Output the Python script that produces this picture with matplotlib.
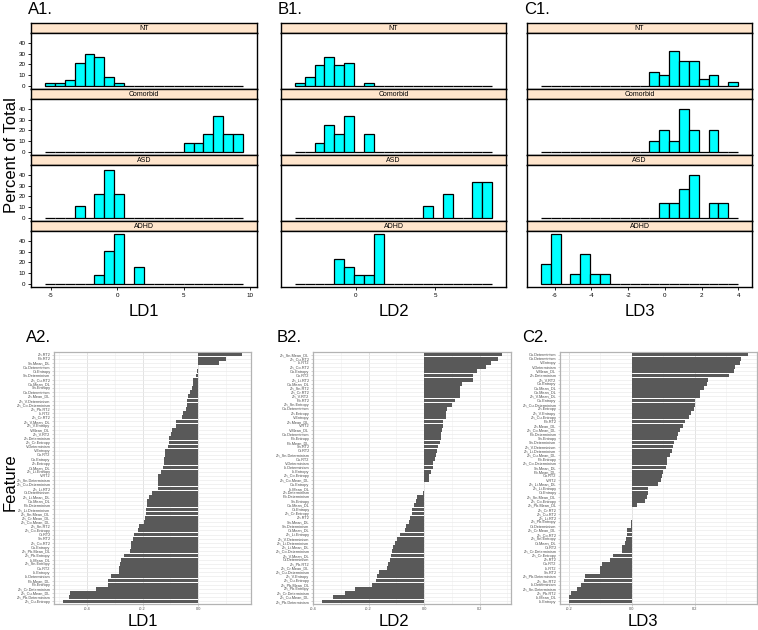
import numpy as np
import matplotlib
matplotlib.use('Agg')
import matplotlib.pyplot as plt
from matplotlib.ticker import MultipleLocator

plt.rcParams['font.family'] = ['Liberation Sans', 'DejaVu Sans']
plt.rcParams['axes.unicode_minus'] = False

W, H = 758, 630

groups = ['NT', 'Comorbid', 'ASD', 'ADHD']
n_bins = 20

# histogram break ranges (lattice, 20 equal bins)
ld1_breaks = (-5.44, 9.46)
ld2_breaks = (-3.83, 8.57)
ld3_breaks = (-6.76, 3.99)

# percent of total per bin
ld1_nt = [2.7, 2.7, 5.4, 21.6, 29.7, 27.0, 8.1, 2.7, 0, 0, 0, 0, 0, 0, 0, 0, 0, 0, 0, 0]
ld1_comorbid = [0, 0, 0, 0, 0, 0, 0, 0, 0, 0, 0, 0, 0, 0, 8.3, 8.3, 16.7, 33.3, 16.7, 16.7]
ld1_asd = [0, 0, 0, 11.1, 0, 22.2, 44.4, 22.2, 0, 0, 0, 0, 0, 0, 0, 0, 0, 0, 0, 0]
ld1_adhd = [0, 0, 0, 0, 0, 7.7, 30.8, 46.2, 0, 15.4, 0, 0, 0, 0, 0, 0, 0, 0, 0, 0]

ld2_nt = [2.7, 8.1, 18.9, 27.0, 18.9, 21.6, 0, 2.7, 0, 0, 0, 0, 0, 0, 0, 0, 0, 0, 0, 0]
ld2_comorbid = [0, 0, 8.3, 25.0, 16.7, 33.3, 0, 16.7, 0, 0, 0, 0, 0, 0, 0, 0, 0, 0, 0, 0]
ld2_asd = [0, 0, 0, 0, 0, 0, 0, 0, 0, 0, 0, 0, 0, 11.1, 0, 22.2, 0, 0, 33.3, 33.3]
ld2_adhd = [0, 0, 0, 0, 23.1, 15.4, 7.7, 7.7, 46.2, 0, 0, 0, 0, 0, 0, 0, 0, 0, 0, 0]

ld3_nt = [0, 0, 0, 0, 0, 0, 0, 0, 0, 0, 0, 10.8, 8.1, 27.0, 18.9, 18.9, 5.4, 8.1, 0, 2.7]
ld3_comorbid = [0, 0, 0, 0, 0, 0, 0, 0, 0, 0, 0, 8.3, 16.7, 8.3, 33.3, 16.7, 0, 16.7, 0, 0]
ld3_asd = [0, 0, 0, 0, 0, 0, 0, 0, 0, 0, 0, 0, 11.1, 11.1, 22.2, 33.3, 0, 11.1, 11.1, 0]
ld3_adhd = [15.4, 38.5, 0, 7.7, 23.1, 7.7, 7.7, 0, 0, 0, 0, 0, 0, 0, 0, 0, 0, 0, 0, 0]

ld1_ticks = [-5, 0, 5, 10]
ld2_ticks = [0, 5]
ld3_ticks = [-6, -4, -2, 0, 2, 4]

# feature loadings (top to bottom)
ld1_features = ["Zn.RT2", "Pb.RT2", "Sn.Mean_DL", "Cu.Determinism", "Cr.Entropy", "Sn.Determinism",
                "Zn_Cu.RT2", "Cu.Mean_DL", "Sn.Entropy", "Co.Determinism", "Zn.Mean_DL", "Zn_V.Determinism",
                "Zn_Co.Determinism", "Zn_Pb.RT2", "Li.RT2", "Zn_Cr.RT2", "Zn_V.Mean_DL", "Zn_V.Entropy",
                "V.Mean_DL", "Zn_V.RT2", "Zn.Determinism", "Zn_Cr.Entropy", "V.Determinism", "V.Entropy",
                "Co.RT2", "Co.Entropy", "Zn.Entropy", "Cr.Mean_DL", "Zn_Li.Entropy", "V.RT2",
                "Zn_Sn.Determinism", "Zn_Cu.Determinism", "Zn_Li.RT2", "Cr.Determinism", "Zn_Li.Mean_DL",
                "Co.Mean_DL", "Pb.Determinism", "Zn_Li.Determinism", "Zn_Sn.Mean_DL", "Zn_Cr.Mean_DL",
                "Zn_Co.Mean_DL", "Zn_Sn.RT2", "Zn_Co.Entropy", "Cr.RT2", "Sn.RT2", "Zn_Co.RT2",
                "Cu.Entropy", "Zn_Pb.Mean_DL", "Zn_Pb.Entropy", "Li.Mean_DL", "Zn_Sn.Entropy", "Cu.RT2",
                "Li.Entropy", "Li.Determinism", "Pb.Mean_DL", "Pb.Entropy", "Zn_Cr.Determinism",
                "Zn_Cu.Mean_DL", "Zn_Pb.Determinism", "Zn_Cu.Entropy"]
ld1_values = [0.157, 0.098, 0.074, -0.002, -0.003, -0.010, -0.018, -0.019, -0.024, -0.029,
              -0.036, -0.039, -0.040, -0.043, -0.055, -0.057, -0.079, -0.081, -0.094, -0.099,
              -0.105, -0.107, -0.108, -0.118, -0.119, -0.124, -0.125, -0.126, -0.133, -0.144,
              -0.144, -0.144, -0.146, -0.165, -0.176, -0.186, -0.186, -0.187, -0.188, -0.190,
              -0.194, -0.214, -0.215, -0.230, -0.236, -0.242, -0.243, -0.245, -0.268, -0.276,
              -0.282, -0.285, -0.286, -0.315, -0.324, -0.324, -0.369, -0.460, -0.465, -0.486]

ld2_features = ["Zn_Sn.Mean_DL", "Zn_Cu.RT2", "Li.RT2", "Zn_Co.RT2", "Co.Entropy", "Co.RT2",
                "Zn_Li.RT2", "Cu.Mean_DL", "Zn_Sn.RT2", "Zn_Cr.RT2", "Zn_V.RT2", "Pb.RT2",
                "Zn_Sn.Entropy", "Cu.Determinism", "Zn.Entropy", "V.Entropy", "Zn.Mean_DL", "V.RT2",
                "V.Mean_DL", "Co.Determinism", "Pb.Entropy", "Pb.Mean_DL", "Sn.RT2", "Cr.RT2",
                "Zn_Sn.Determinism", "Cu.RT2", "V.Determinism", "Li.Determinism", "Li.Entropy",
                "Zn_Co.Entropy", "Zn_Co.Mean_DL", "Cu.Entropy", "Li.Mean_DL", "Zn.Determinism",
                "Pb.Determinism", "Sn.Entropy", "Co.Mean_DL", "Cr.Entropy", "Zn_Cr.Entropy", "Zn.RT2",
                "Sn.Mean_DL", "Sn.Determinism", "Cr.Mean_DL", "Zn_Li.Entropy", "Zn_V.Determinism",
                "Zn_Li.Determinism", "Zn_Li.Mean_DL", "Zn_Co.Determinism", "Zn_V.Mean_DL",
                "Cr.Determinism", "Zn_Pb.RT2", "Zn_Cr.Mean_DL", "Zn_Cu.Determinism", "Zn_V.Entropy",
                "Zn_Cu.Entropy", "Zn_Pb.Mean_DL", "Zn_Pb.Entropy", "Zn_Cr.Determinism",
                "Zn_Cu.Mean_DL", "Zn_Pb.Determinism"]
ld2_values = [0.281, 0.266, 0.242, 0.224, 0.190, 0.176, 0.176, 0.138, 0.131, 0.131,
              0.129, 0.111, 0.101, 0.081, 0.080, 0.080, 0.069, 0.068, 0.065, 0.060,
              0.060, 0.059, 0.051, 0.047, 0.042, 0.040, 0.032, 0.031, 0.025, 0.019,
              0.019, 0.001, -0.001, -0.004, -0.024, -0.028, -0.038, -0.042, -0.043, -0.050,
              -0.053, -0.066, -0.067, -0.085, -0.097, -0.104, -0.111, -0.114, -0.121, -0.122,
              -0.129, -0.135, -0.163, -0.170, -0.175, -0.188, -0.250, -0.284, -0.327, -0.368]

ld3_features = ["Cu.Determinism", "Co.Determinism", "V.Entropy", "V.Determinism", "V.Mean_DL",
                "Zn.Determinism", "Zn_V.RT2", "Co.Entropy", "Cu.Mean_DL", "Co.Mean_DL",
                "Zn_V.Mean_DL", "Cu.Entropy", "Zn_Cu.Determinism", "Zn.Entropy", "Zn_V.Entropy",
                "Zn_Cu.Entropy", "Pb.RT2", "Zn.Mean_DL", "Zn_Co.Mean_DL", "Pb.Determinism",
                "Sn.Entropy", "Sn.Determinism", "Zn_V.Determinism", "Zn_Li.Determinism",
                "Zn_Cu.Mean_DL", "Pb.Entropy", "Zn_Co.Determinism", "Sn.Mean_DL", "Pb.Mean_DL",
                "Co.RT2", "V.RT2", "Zn_Li.Mean_DL", "Zn_Li.Entropy", "Cr.Entropy", "Zn_Sn.Mean_DL",
                "Zn_Co.Entropy", "Zn_Pb.Mean_DL", "Zn_Cr.RT2", "Zn_Cu.RT2", "Zn_Li.RT2",
                "Zn_Pb.Entropy", "Cr.Determinism", "Zn_Cr.Mean_DL", "Zn_Co.RT2", "Zn_Sn.Entropy",
                "Cr.Mean_DL", "Cr.RT2", "Zn_Cr.Determinism", "Zn_Cr.Entropy", "Zn.RT2", "Cu.RT2",
                "Li.RT2", "Sn.RT2", "Zn_Pb.Determinism", "Zn_Sn.RT2", "Li.Determinism",
                "Zn_Sn.Determinism", "Zn_Pb.RT2", "Li.Mean_DL", "Li.Entropy"]
ld3_values = [0.370, 0.349, 0.345, 0.328, 0.324, 0.309, 0.244, 0.239, 0.230, 0.218,
              0.216, 0.202, 0.200, 0.198, 0.187, 0.182, 0.168, 0.164, 0.152, 0.147,
              0.143, 0.135, 0.130, 0.128, 0.121, 0.112, 0.111, 0.108, 0.098, 0.097,
              0.092, 0.083, 0.051, 0.051, 0.047, 0.041, 0.015, 0.002, 0.0005, 0.0003,
              -0.001, -0.004, -0.015, -0.015, -0.018, -0.023, -0.030, -0.030, -0.060, -0.069,
              -0.096, -0.102, -0.102, -0.148, -0.152, -0.161, -0.174, -0.195, -0.199, -0.200]


def px_rect(x0, y0, x1, y1):
    return [x0 / W, 1 - y1 / H, (x1 - x0) / W, (y1 - y0) / H]


fig = plt.figure(figsize=(W / 100, H / 100), dpi=100)

# ---- top row: lattice style histograms ----
top = [
    ('A1.', 'LD1', ld1_breaks, [ld1_nt, ld1_comorbid, ld1_asd, ld1_adhd], ld1_ticks, (31, 257)),
    ('B1.', 'LD2', ld2_breaks, [ld2_nt, ld2_comorbid, ld2_asd, ld2_adhd], ld2_ticks, (281, 506)),
    ('C1.', 'LD3', ld3_breaks, [ld3_nt, ld3_comorbid, ld3_asd, ld3_adhd], ld3_ticks, (527, 752)),
]
facet_top, strip_h, facet_h = 23, 10, 66

for col, (tag, xlab, (lo, hi), pcts, xticks, (x0, x1)) in enumerate(top):
    breaks = np.linspace(lo, hi, n_bins + 1)
    bw = breaks[1] - breaks[0]
    xpad = 0.07 * (hi - lo)
    ymax = max(max(p) for p in pcts)
    for i, (g, pct) in enumerate(zip(groups, pcts)):
        ys = facet_top + i * facet_h
        sax = fig.add_axes(px_rect(x0, ys, x1, ys + strip_h))
        sax.set_facecolor('#ffe5cc')
        sax.set_xticks([])
        sax.set_yticks([])
        for s in sax.spines.values():
            s.set_linewidth(1.0)
        sax.text(0.5, 0.45, g, ha='center', va='center', fontsize=5)

        ax = fig.add_axes(px_rect(x0, ys + strip_h, x1, ys + facet_h))
        ax.bar(breaks[:-1], pct, width=bw, align='edge', color='#00ffff',
               edgecolor='black', linewidth=0.9)
        ax.set_xlim(lo - xpad, hi + xpad)
        ax.set_ylim(-0.07 * ymax, 1.07 * ymax)
        for s in ax.spines.values():
            s.set_linewidth(1.0)
        if col == 0:
            ax.set_yticks([0, 10, 20, 30, 40])
            ax.tick_params(axis='y', labelsize=4.5, length=2.5, width=0.6, pad=1.5)
        else:
            ax.set_yticks([])
        if i == len(groups) - 1:
            ax.set_xticks(xticks)
            ax.set_xticklabels([str(t) for t in xticks])
            ax.tick_params(axis='x', labelsize=4.5, length=2.5, width=0.6, pad=2)
        else:
            ax.set_xticks([])
    fig.text(x0 / W - 3 / W, 1 - 10 / H, tag, fontsize=12, va='center', ha='left')
    fig.text((x0 + x1) / 2 / W, 1 - 312 / H, xlab, fontsize=12, ha='center', va='center')

fig.text(12 / W, 1 - 155 / H, 'Percent of Total', fontsize=12, rotation=90,
         ha='center', va='center')

# ---- bottom row: ggplot style loadings bars ----
bottom = [
    ('A2.', 'LD1', ld1_features, ld1_values, (54, 251), 143, 26),
    ('B2.', 'LD2', ld2_features, ld2_values, (313, 511), 394, 277),
    ('C2.', 'LD3', ld3_features, ld3_values, (560, 757), 643, 522),
]
by0, by1 = 352, 604

for tag, xlab, feats, vals, (x0, x1), lab_x, tag_x in bottom:
    ax = fig.add_axes(px_rect(x0, by0, x1, by1))
    n = len(vals)
    ypos = np.arange(n)
    ax.barh(ypos, vals, height=0.9, color='#595959', zorder=3)
    lo = min(min(vals), 0)
    hi = max(max(vals), 0)
    pad = 0.05 * (hi - lo)
    ax.set_xlim(lo - pad, hi + pad)
    ax.set_ylim(n - 1 + 0.6, -0.6)
    ax.set_yticks(ypos)
    ax.set_yticklabels(feats)
    ax.xaxis.set_major_locator(MultipleLocator(0.2))
    ax.xaxis.set_minor_locator(MultipleLocator(0.1))
    ax.xaxis.set_major_formatter(plt.FormatStrFormatter('%.1f'))
    ax.grid(axis='x', which='major', color='#dedede', linewidth=0.6, zorder=0)
    ax.grid(axis='x', which='minor', color='#efefef', linewidth=0.4, zorder=0)
    ax.grid(axis='y', which='major', color='#ebebeb', linewidth=0.5, zorder=0)
    ax.set_axisbelow(True)
    ax.tick_params(axis='both', which='major', labelsize=2.8, length=1.5, width=0.4,
                   color='#b3b3b3', labelcolor='#4d4d4d', pad=1)
    ax.tick_params(axis='x', which='minor', length=0)
    for s in ax.spines.values():
        s.set_color('#b3b3b3')
        s.set_linewidth(0.9)
    fig.text(tag_x / W, 1 - 337 / H, tag, fontsize=12, va='center', ha='left')
    fig.text(lab_x / W, 1 - 621 / H, xlab, fontsize=12, ha='center', va='center')

fig.text(10 / W, 1 - 482 / H, 'Feature', fontsize=12, rotation=90,
         ha='center', va='center')

fig.savefig('out.png', dpi=100)
